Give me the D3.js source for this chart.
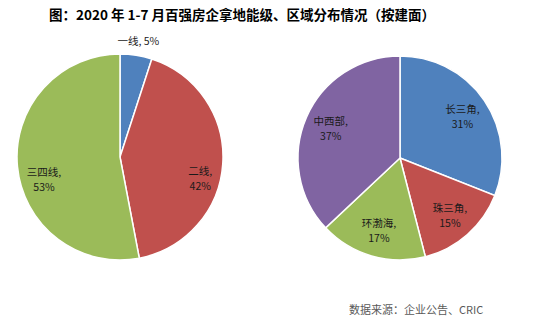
<!DOCTYPE html>
<html><head><meta charset="utf-8">
<script src="https://cdn.jsdelivr.net/npm/d3@7"></script>
<style>
html,body{margin:0;padding:0;background:#fff;}
svg{display:block;font-family:"Noto Sans CJK SC","Microsoft YaHei",sans-serif;}
</style></head>
<body>
<script>
// City tiers (left pie)
const tierNames = ["一线", "二线", "三四线"];
const tierShares = [5, 42, 53];
// Regions (right pie)
const regionNames = ["长三角", "珠三角", "环渤海", "中西部"];
const regionShares = [31, 15, 17, 37];

const titleText = "图：2020 年 1-7 月百强房企拿地能级、区域分布情况（按建面）";
const sourceText = "数据来源：企业公告、CRIC";

const tierColors = ["#4F81BD", "#C0504D", "#9BBB59"];
const regionColors = ["#4F81BD", "#C0504D", "#9BBB59", "#8064A2"];

const W = 537, H = 332;
const svg = d3.select("body").append("svg").attr("width", W).attr("height", H);

svg.append("text").attr("x", 242).attr("y", 20).attr("text-anchor", "middle")
  .attr("font-size", 13.5).attr("font-weight", "bold").attr("fill", "#000").text(titleText);

svg.append("text").attr("x", 349).attr("y", 314).attr("font-size", 11)
  .attr("fill", "#595959").text(sourceText);

function drawPie(cx, cy, r, names, values, colors, labelR, nudges, outsideIdx) {
  const pie = d3.pie().sort(null).value(d => d);
  const arcs = pie(values);
  const arc = d3.arc().innerRadius(0).outerRadius(r);
  const g = svg.append("g").attr("transform", `translate(${cx},${cy})`);
  g.selectAll("path").data(arcs).join("path")
    .attr("d", arc).attr("fill", (d, i) => colors[i])
    .attr("stroke", "#fff").attr("stroke-width", 1.5);
  arcs.forEach((d, i) => {
    const lr = (i === outsideIdx ? 1.14 : labelR) * r;
    const c = d3.arc().innerRadius(lr).outerRadius(lr).centroid(d);
    const nd = nudges[i] || [0, 0];
    const x = c[0] + nd[0], y = c[1] + nd[1];
    const label = (txt, yy) => g.append("text").attr("text-anchor", "middle")
      .attr("font-size", 10.5).attr("fill", "#1a1a1a")
      .attr("x", x).attr("y", yy).text(txt);
    if (i === outsideIdx) {
      label(`${names[i]}, ${values[i]}%`, y + 4);
    } else {
      label(names[i] + ",", y - 3);
      label(values[i] + "%", y + 12);
    }
  });
}

drawPie(120, 157, 103, tierNames, tierShares, tierColors, 0.8, [[0, 0], [-2, 16], [6, 14]], 0);
drawPie(400, 158, 102, regionNames, regionShares, regionColors, 0.74, [[0, 0], [0, 0], [0, 0], [0, 0]], -1);
</script>
</body></html>
